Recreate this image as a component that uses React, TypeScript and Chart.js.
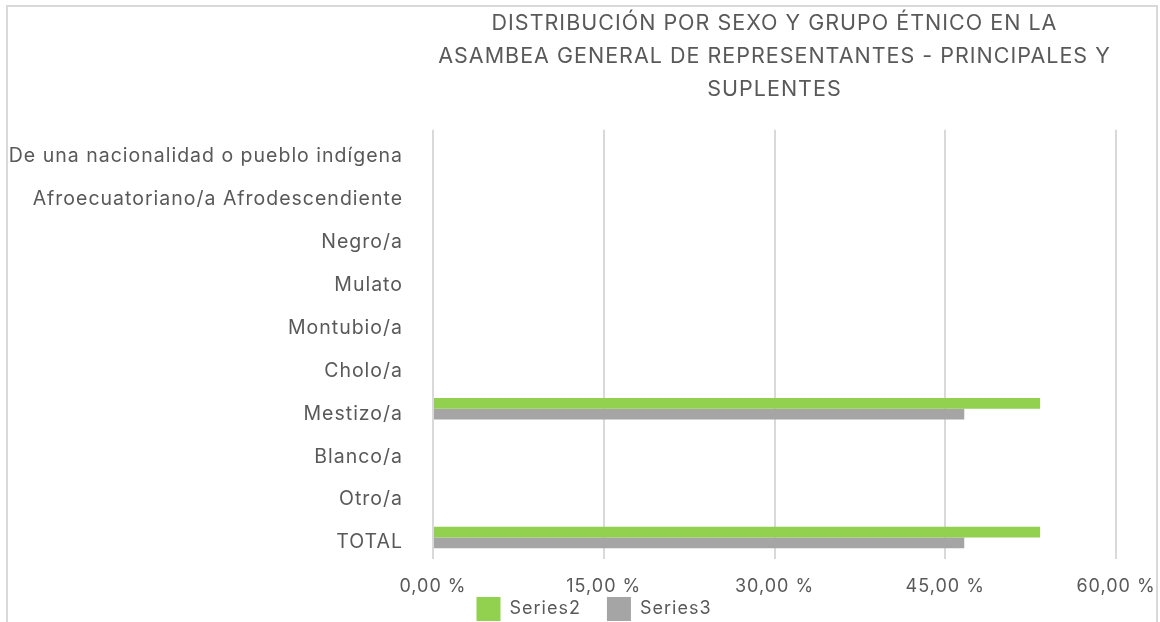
import React, { useEffect, useRef } from "react";
import { Chart, registerables } from "chart.js";

Chart.register(...registerables);

const titleLines = [
  "DISTRIBUCIÓN POR SEXO Y GRUPO ÉTNICO EN LA",
  "ASAMBEA GENERAL DE REPRESENTANTES - PRINCIPALES Y",
  "SUPLENTES",
];

const categories = [
  "De una nacionalidad o pueblo indígena",
  "Afroecuatoriano/a Afrodescendiente",
  "Negro/a",
  "Mulato",
  "Montubio/a",
  "Cholo/a",
  "Mestizo/a",
  "Blanco/a",
  "Otro/a",
  "TOTAL",
];

const series2Values = [0, 0, 0, 0, 0, 0, 53.33, 0, 0, 53.33];
const series3Values = [0, 0, 0, 0, 0, 0, 46.67, 0, 0, 46.67];

const xTicks = [0, 15, 30, 45, 60];

const TEXT = "#595959";
const FONT = "Inter";

export default function App() {
  const ref = useRef<HTMLCanvasElement | null>(null);

  useEffect(() => {
    if (!ref.current) return;
    const spacing = {
      id: "spacing",
      beforeUpdate(chart: any) {
        chart.ctx.letterSpacing = "1px";
      },
      beforeDraw(chart: any) {
        chart.ctx.letterSpacing = "1px";
      },
    };
    const shiftLegend = {
      id: "shiftLegend",
      afterLayout(chart: any) {
        const lg = chart.legend;
        if (lg) {
          lg.left += 36;
          lg.right += 36;
          lg.top -= 28;
          lg.bottom -= 28;
        }
      },
    };
    const chart = new Chart(ref.current, {
      type: "bar",
      data: {
        labels: categories,
        datasets: [
          {
            label: "Series2",
            data: series2Values,
            backgroundColor: "#92d050",
            categoryPercentage: 0.5,
            barPercentage: 1,
          },
          {
            label: "Series3",
            data: series3Values,
            backgroundColor: "#a5a5a5",
            categoryPercentage: 0.5,
            barPercentage: 1,
          },
        ],
      },
      options: {
        indexAxis: "y",
        animation: false,
        responsive: false,
        layout: { padding: { top: 0, left: 0, right: 44, bottom: 0 } },
        scales: {
          x: {
            min: 0,
            max: 60,
            afterBuildTicks: (scale: any) => {
              scale.ticks = xTicks.map((v) => ({ value: v }));
            },
            afterFit: (scale: any) => {
              scale.height = 40;
              scale.paddingLeft = 0;
              scale.paddingRight = 0;
            },
            grid: {
              color: "#d9d9d9",
              lineWidth: 2,
              drawTicks: false,
            },
            border: { display: false },
            ticks: {
              padding: 17,
              color: TEXT,
              font: { family: FONT, size: 18 },
              callback: (v: any) =>
                Number(v).toFixed(2).replace(".", ",") + " %",
            },
          },
          y: {
            afterFit: (scale: any) => {
              scale.width = 433;
            },
            grid: { display: false, drawTicks: false },
            border: { display: false },
            ticks: {
              padding: 30,
              labelOffset: 5,
              color: TEXT,
              font: { family: FONT, size: 19.5 },
            },
          },
        },
        plugins: {
          title: {
            display: true,
            text: titleLines,
            fullSize: false,
            color: TEXT,
            font: { family: FONT, size: 21.5, weight: "normal", lineHeight: 1.53 },
            padding: { top: 7, bottom: 24 },
          },
          legend: {
            position: "bottom",
            labels: {
              boxWidth: 24,
              boxHeight: 24,
              padding: 26,
              color: TEXT,
              font: { family: FONT, size: 18 },
            },
          },
          tooltip: { enabled: false },
        },
      },
      plugins: [spacing, shiftLegend],
    } as any);
    return () => chart.destroy();
  }, []);

  return (
    <>
      <div
        style={{
          position: "fixed",
          left: 6,
          top: 5,
          width: 1152,
          height: 700,
          border: "2px solid #d9d9d9",
          boxSizing: "border-box",
          background: "#fff",
        }}
      />
      <canvas
        ref={ref}
        width={1160}
        height={659}
        style={{ position: "fixed", left: 0, top: 0, width: 1160, height: 659 }}
      />
    </>
  );
}
